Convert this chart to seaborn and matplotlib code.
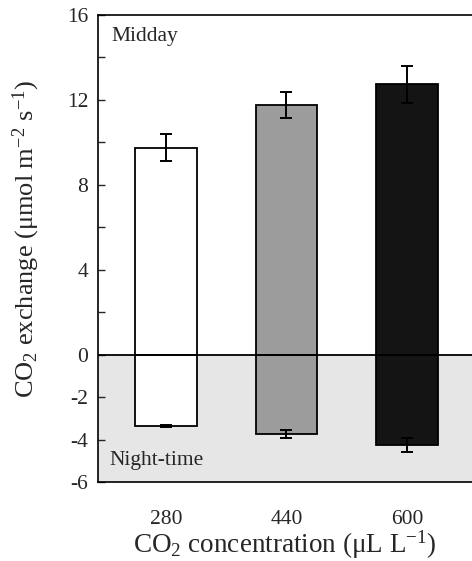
import matplotlib
matplotlib.use("Agg")
import matplotlib.pyplot as plt
import seaborn as sns
import pandas as pd

# CO2 exchange at three CO2 concentrations, midday uptake and night-time release
conc = ["280", "440", "600"]
midday = [9.74, 11.75, 12.74]
midday_err = [0.64, 0.62, 0.88]
night = [-3.38, -3.74, -4.28]
night_err = [0.05, 0.2, 0.33]
bar_colors = ["#ffffff", "#9c9c9c", "#141414"]

sns.set_style("ticks")
plt.rcParams["font.family"] = ["Liberation Serif", "DejaVu Serif"]
plt.rcParams["mathtext.fontset"] = "custom"
plt.rcParams["mathtext.rm"] = "Liberation Serif"
plt.rcParams["mathtext.it"] = "Liberation Serif:italic"
plt.rcParams["axes.unicode_minus"] = False

df = pd.DataFrame({"conc": conc, "midday": midday, "night": night})

fig = plt.figure(figsize=(4.72, 5.61), dpi=100)
ax = fig.add_axes([98 / 472, 1 - 482 / 561, 1 - 98 / 472, (482 - 15) / 561])

ax.axhspan(-6, 0, color="#e6e6e6", zorder=0, lw=0)

for col in ["midday", "night"]:
    sns.barplot(data=df, x="conc", y=col, hue="conc", palette=bar_colors,
                legend=False, width=0.51, edgecolor="black", linewidth=1.3,
                ax=ax, zorder=2)

ax.errorbar(range(3), midday, yerr=midday_err, fmt="none", ecolor="black",
            elinewidth=1.4, capsize=4, capthick=1.4, zorder=3)
ax.errorbar(range(3), night, yerr=night_err, fmt="none", ecolor="black",
            elinewidth=1.4, capsize=4, capthick=1.4, zorder=3)

ax.axhline(0, color="black", lw=1.3, zorder=4)

ax.set_xlim(-0.564, 2.54)
ax.set_ylim(-6, 16)
ax.set_yticks([-6, -4, -2, 0, 4, 8, 12, 16])
ax.set_yticks([2, 6, 10, 14], minor=True)
ax.tick_params(axis="y", which="both", direction="in", length=5, width=1,
               labelsize=15.5, pad=7)
ax.tick_params(axis="x", length=0, labelsize=15.5, pad=20)

for s in ["left", "bottom", "top"]:
    ax.spines[s].set_linewidth(1.2)
    ax.spines[s].set_color("black")
ax.spines["right"].set_visible(False)

ax.set_xlabel(r"CO$_2$ concentration ($\mathrm{\mu}$L L$^{-1}$)", fontsize=19.5, labelpad=0)
ax.set_ylabel(r"CO$_2$ exchange ($\mathrm{\mu}$mol m$^{-2}$ s$^{-1}$)", fontsize=19, labelpad=4)
ax.yaxis.set_label_coords(-0.15, 0.52)

ax.text(-0.45, 15.0, "Midday", fontsize=15.5, va="center", ha="left")
ax.text(-0.47, -5.0, "Night-time", fontsize=15.5, va="center", ha="left")

fig.savefig("out.png", dpi=100)
